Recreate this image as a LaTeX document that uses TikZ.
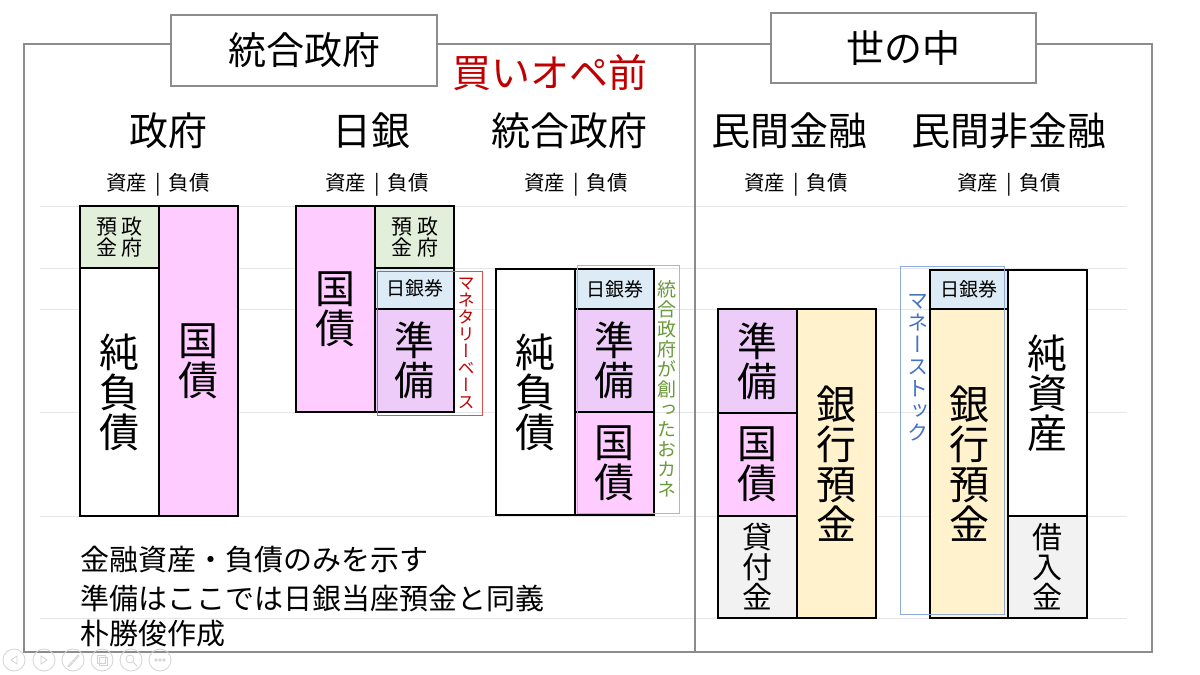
\documentclass[tikz,border=0pt]{standalone}
\usepackage{fontspec}
\setmainfont{Noto Sans CJK JP}
\newfontfamily\vjp[RawFeature=+vert]{Noto Sans CJK JP}
\definecolor{pinkc}{HTML}{FFCCFF}
\definecolor{lavc}{HTML}{EECCFA}
\definecolor{greenc}{HTML}{E2EFDA}
\definecolor{bluec}{HTML}{DDEBF7}
\definecolor{yelc}{HTML}{FFF2CC}
\definecolor{greyc}{HTML}{F2F2F2}
\definecolor{framec}{HTML}{8C8C8C}
\definecolor{gridc}{HTML}{E6E6E6}
\definecolor{redtxt}{HTML}{C00000}
\definecolor{redline}{HTML}{E05050}
\definecolor{grnline}{HTML}{A9C48F}
\definecolor{grntxt}{HTML}{6A9A3A}
\definecolor{bluline}{HTML}{8FAADC}
\definecolor{blutxt}{HTML}{4472C4}
\definecolor{iconc}{HTML}{D4D4D4}
\newcommand\bsrect[7]{%
  \node[#6, minimum width={#4-#2}, minimum height={#5-#3}] (#1) at ({(#2+#4)/2},{(#3+#5)/2}) {#7};}
\tikzset{
  bsbox/.style={draw=black, line width=1.1pt, inner sep=0pt, align=center, font=\fontsize{40}{40}\selectfont},
  smallbox/.style={bsbox, font=\fontsize{30}{30}\selectfont},
  tinybox/.style={bsbox, font=\fontsize{19}{21}\selectfont},
  outlinebox/.style={draw=#1, line width=0.9pt, inner sep=0pt},
  heading/.style={font=\fontsize{39}{40}\selectfont, inner sep=0pt},
  colhead/.style={font=\fontsize{20.5}{22}\selectfont, inner sep=0pt},
  titlebox/.style={draw=framec, line width=1.1pt, fill=white, inner sep=0pt, font=\fontsize{38}{40}\selectfont},
  framebox/.style={draw=framec, line width=1.1pt},
  gridline/.style={draw=gridc, line width=0.8pt},
  vlabel/.style={inner sep=0pt, align=center},
  note/.style={font=\fontsize{29}{37}\selectfont, inner sep=0pt, anchor=west},
  icon/.style={draw=iconc, line width=0.8pt, circle, minimum size=22pt, inner sep=0pt},
  iconline/.style={draw=iconc, line width=0.8pt},
}
\begin{document}
\begin{tikzpicture}[x=1pt,y=-1pt]
\useasboundingbox (0,0) rectangle (1200,675);
\fill[white] (0,0) rectangle (1200,675);
% grid lines
\foreach \yy in {206,268,309,412,516,618}
  \draw[gridline] (40,\yy) -- (1127,\yy);
% frames
\draw[framebox] (24,44) rectangle (695,652);
\draw[framebox] (695,44) rectangle (1152,652);
\bsrect{t1}{171}{15}{437}{86}{titlebox}{統合政府}
\bsrect{t2}{771}{13}{1036}{83}{titlebox}{世の中}
\node[heading, text=redtxt] (kaiope) at (550,73) {買いオペ前};
% headings
\node[heading] (h1) at (168,131) {政府};
\node[heading] (h2) at (371,131) {日銀};
\node[heading] (h3) at (569,131) {統合政府};
\node[heading] (h4) at (789,131) {民間金融};
\node[heading] (h5) at (1009,131) {民間非金融};
\foreach \xx/\nm in {158/c1,377/c2,576/c3,796/c4,1009/c5}
  \node[colhead] (\nm) at (\xx,185) {資産\hspace{8pt}|\hspace{8pt}負債};
% 政府
\bsrect{g1}{80}{206}{159}{268}{tinybox, fill=greenc, font=\fontsize{21}{21}\selectfont}{預\hspace{5pt}政\\金\hspace{5pt}府}
\bsrect{g2}{80}{268}{159}{516}{bsbox, fill=white}{純\\負\\債}
\bsrect{g3}{159}{206}{238}{516}{bsbox, fill=pinkc}{国\\債}
% 日銀
\bsrect{b1}{296}{206}{375}{412}{bsbox, fill=pinkc}{国\\債}
\bsrect{b2}{375}{206}{454}{268}{tinybox, fill=greenc, font=\fontsize{21}{21}\selectfont}{預\hspace{5pt}政\\金\hspace{5pt}府}
\bsrect{b3}{375}{268}{454}{309}{tinybox, fill=bluec}{日銀券}
\bsrect{b4}{375}{309}{454}{412}{bsbox, fill=lavc}{準\\備}
\bsrect{mb}{377}{271}{482}{415}{outlinebox=redline}{}
\node[vlabel, text=redtxt, font=\vjp\fontsize{17}{17}\selectfont] (mbt) at (466,343) {マ\\ネ\\タ\\リ\\ー\\ベ\\ー\\ス};
% 統合政府
\bsrect{u1}{496}{269}{575}{515}{bsbox, fill=white}{純\\負\\債}
\bsrect{u2}{575}{269}{654}{309}{tinybox, fill=bluec}{日銀券}
\bsrect{u3}{575}{309}{654}{412}{bsbox, fill=lavc}{準\\備}
\bsrect{u4}{575}{412}{654}{515}{bsbox, fill=pinkc}{国\\債}
\bsrect{gm}{577}{265}{679}{513}{outlinebox=grnline}{}
\node[vlabel, text=grntxt, font=\vjp\fontsize{19}{20}\selectfont] (gmt) at (667,389) {統\\合\\政\\府\\が\\創\\っ\\た\\お\\カ\\ネ};
% 民間金融
\bsrect{f1}{718}{309}{797}{413}{bsbox, fill=lavc}{準\\備}
\bsrect{f2}{718}{413}{797}{516}{bsbox, fill=pinkc}{国\\債}
\bsrect{f3}{718}{516}{797}{618}{smallbox, fill=greyc}{貸\\付\\金}
\bsrect{f4}{797}{309}{876}{618}{bsbox, fill=yelc}{銀\\行\\預\\金}
% 民間非金融
\bsrect{n1}{930}{270}{1008}{309}{tinybox, fill=bluec}{日銀券}
\bsrect{n2}{930}{309}{1008}{618}{bsbox, fill=yelc}{銀\\行\\預\\金}
\bsrect{n3}{1008}{270}{1087}{516}{bsbox, fill=white}{純\\資\\産}
\bsrect{n4}{1008}{516}{1087}{618}{smallbox, fill=greyc}{借\\入\\金}
\bsrect{ms}{900}{266}{1004}{614}{outlinebox=bluline}{}
\node[vlabel, text=blutxt, font=\vjp\fontsize{21}{22}\selectfont] (mst) at (918,368) {マ\\ネ\\ー\\ス\\ト\\ッ\\ク};
% notes
\node[note] (nt1) at (80,560) {金融資産・負債のみを示す};
\node[note] (nt2) at (80,598) {準備はここでは日銀当座預金と同義};
\node[note] (nt3) at (80,634) {朴勝俊作成};
% icons
\node[icon] (ic1) at (14,660) {};
\node[icon] (ic2) at (44,660) {};
\node[icon] (ic3) at (73,660) {};
\node[icon] (ic4) at (102,660) {};
\node[icon] (ic5) at (131,660) {};
\node[icon] (ic6) at (160,660) {};
\draw[iconline, shift={(ic1.center)}] (3,-4) -- (-3,0) -- (3,4) -- cycle;
\draw[iconline, shift={(ic2.center)}] (-3,-4) -- (3,0) -- (-3,4) -- cycle;
\draw[iconline, shift={(ic3.center)}] (-5,6) -- (5,-5) -- (6,-4) -- (-4,7) -- cycle;
\draw[iconline, shift={(ic4.center)}] (-5,-5) rectangle (3,3) (-3,-3) rectangle (5,5);
\draw[iconline, shift={(ic5.center)}] (-1,-1) circle (4) (2,2) -- (6,6);
\draw[iconline, shift={(ic6.center)}] (-4,0) circle (1.3) (0,0) circle (1.3) (4,0) circle (1.3);
\end{tikzpicture}
\end{document}
